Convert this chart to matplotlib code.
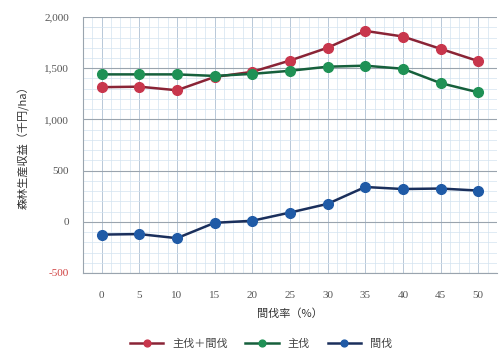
import matplotlib
matplotlib.use("Agg")
import matplotlib.pyplot as plt
import numpy as np
from matplotlib.ticker import MultipleLocator, FuncFormatter

plt.rcParams['font.family'] = ['Noto Sans CJK JP', 'DejaVu Sans']

thinning_rate = [0, 5, 10, 15, 20, 25, 30, 35, 40, 45, 50]
main_plus_thin = [1315, 1320, 1285, 1415, 1465, 1575, 1700, 1865, 1810, 1690, 1570]
main_cut = [1440, 1440, 1440, 1425, 1445, 1475, 1515, 1525, 1495, 1355, 1265]
thin_cut = [-125, -120, -160, -10, 10, 90, 175, 340, 320, 325, 305]

series = [
    ("主伐＋間伐", main_plus_thin, "#c8364c", "#8a2436"),
    ("主伐", main_cut, "#1f9155", "#16603c"),
    ("間伐", thin_cut, "#1f5aa6", "#1a2f5c"),
]

fig = plt.figure(figsize=(5.02, 3.63), dpi=100)
ax = fig.add_axes([0.165, 0.248, 0.825, 0.705])

idx = np.arange(len(thinning_rate))
for name, vals, mc, lc in series:
    ax.plot(idx, vals, color=lc, lw=1.8, marker='o', ms=7,
            markerfacecolor=mc, markeredgecolor=mc, label=name, zorder=3)

ax.set_xlim(-0.5, len(idx) - 0.5)
ax.set_ylim(-500, 2000)

ax.set_xticks(idx)
ax.set_xticklabels([str(v) for v in thinning_rate])
ax.yaxis.set_major_locator(MultipleLocator(500))
ax.yaxis.set_minor_locator(MultipleLocator(100))
ax.xaxis.set_minor_locator(MultipleLocator(0.25))
ax.yaxis.set_major_formatter(FuncFormatter(lambda v, p: f"{int(v):,}"))

ax.grid(which='major', axis='y', color='#9aa4ae', lw=0.8)
ax.grid(which='major', axis='x', color='#b8c8d8', lw=0.7)
ax.grid(which='minor', color='#d3e3f0', lw=0.5)
ax.set_axisbelow(True)

for s in ['top', 'right']:
    ax.spines[s].set_visible(False)
ax.spines['left'].set_color('#9aa4ae')
ax.spines['bottom'].set_color('#9aa4ae')
ax.tick_params(which='both', length=0)
ax.tick_params(axis='y', labelsize=8, colors='#555555', pad=10)
ax.tick_params(axis='x', labelsize=8, colors='#555555', pad=13)
for lab in ax.get_yticklabels() + ax.get_xticklabels():
    lab.set_fontfamily(['Liberation Serif', 'DejaVu Serif'])
for lab in ax.get_yticklabels():
    if lab.get_text().startswith('-'):
        lab.set_color('#d04040')

ax.set_ylabel("森林生産収益（千円/ha）", fontsize=8, color='#333333', labelpad=10)
ax.set_xlabel("間伐率（%）", fontsize=8, color='#333333', labelpad=6)

fig.legend(loc='lower center', bbox_to_anchor=(0.52, 0.01), ncol=3, frameon=False,
           fontsize=8, handlelength=3.0, columnspacing=1.6, markerscale=0.7,
           labelcolor='#444444')

fig.savefig("out.png", dpi=100, facecolor='white')
